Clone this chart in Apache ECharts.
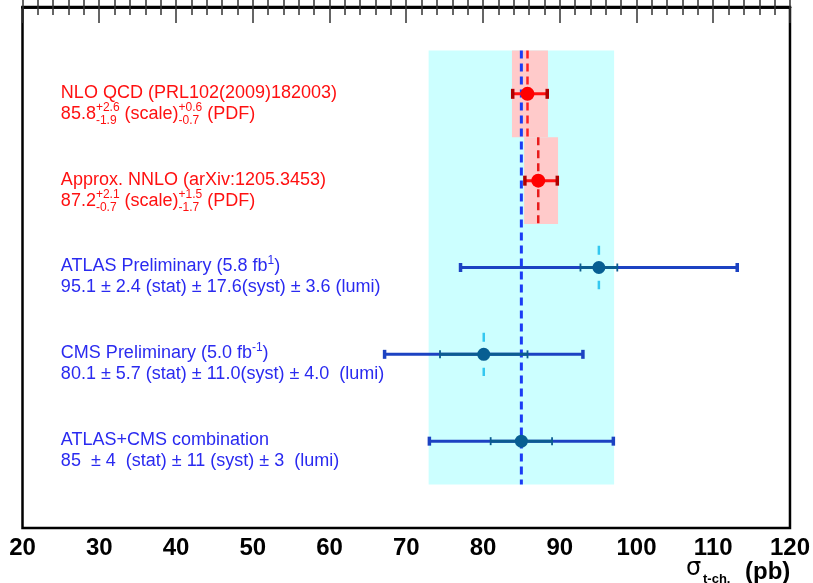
<!DOCTYPE html>
<html><head><meta charset="utf-8">
<script src="https://cdn.jsdelivr.net/npm/echarts@6/dist/echarts.min.js"></script>
<style>html,body{margin:0;padding:0;background:#fff}#c{width:813px;height:583px}</style>
</head><body><div id="c"></div>
<script>
// ---------- data ----------
const xMin = 20, xMax = 120, xStep = 10;
// theory predictions (rows 1,2)
const theoryRows = [1, 2];
const theoryCentral = [85.8, 87.2];
const theoryScaleUp = [2.6, 2.1];
const theoryScaleDown = [1.9, 0.7];
const theoryPdfUp = [0.6, 1.5];
const theoryPdfDown = [0.7, 1.7];
// measurements (rows 3,4,5)
const measRows = [3, 4, 5];
const measCentral = [95.1, 80.1, 85];
const measStat = [2.4, 5.7, 4];
const measSyst = [17.6, 11.0, 11];
const measLumi = [3.6, 4.0, 3];
const combIndex = 2;
// label texts: strings, or {sup, sub} pieces
const labelRows = [1, 2, 3, 4, 5];
const labelLine1 = [
  ['NLO QCD (PRL102(2009)182003)'],
  ['Approx. NNLO (arXiv:1205.3453)'],
  ['ATLAS Preliminary (5.8 fb', {sup: '1'}, ')'],
  ['CMS Preliminary (5.0 fb', {sup: '-1'}, ')'],
  ['ATLAS+CMS combination']
];
const labelLine2 = [
  ['85.8', {sup: '+2.6', sub: '-1.9'}, ' (scale)', {sup: '+0.6', sub: '-0.7'}, ' (PDF)'],
  ['87.2', {sup: '+2.1', sub: '-0.7'}, ' (scale)', {sup: '+1.5', sub: '-1.7'}, ' (PDF)'],
  ['95.1 \u00b1 2.4 (stat) \u00b1 17.6(syst) \u00b1 3.6 (lumi)'],
  ['80.1 \u00b1 5.7 (stat) \u00b1 11.0(syst) \u00b1 4.0  (lumi)'],
  ['85  \u00b1 4  (stat) \u00b1 11 (syst) \u00b1 3  (lumi)']
];
const labelColors = ['#ff1010', '#ff1010', '#2a2af0', '#2a2af0', '#2a2af0'];
const axisTitle = {sym: '\u03c3', sub: 't-ch.', unit: '(pb)'};

// ---------- helpers ----------
const quad = (...a) => Math.sqrt(a.reduce((s, v) => s + v * v, 0));
const theoryLo = theoryCentral.map((c, i) => c - quad(theoryScaleDown[i], theoryPdfDown[i]));
const theoryHi = theoryCentral.map((c, i) => c + quad(theoryScaleUp[i], theoryPdfUp[i]));
const measTot = measCentral.map((c, i) => quad(measStat[i], measSyst[i], measLumi[i]));

const FONT = '"Liberation Sans", Arial, Helvetica, sans-serif';
const cv = document.createElement('canvas').getContext('2d');
function tw(s, size) { cv.font = size + 'px ' + FONT; return cv.measureText(s).width; }

const LABEL_X = 25;
const MAIN = 18, SMALL = 12;

function textEl(x, y, s, size, color) {
  return {type: 'text', x: x, y: y, style: {text: s, font: size + 'px ' + FONT, fill: color, textAlign: 'left', textVerticalAlign: 'middle'}};
}
function lineChildren(x, y, segs, color) {
  const out = [];
  segs.forEach(seg => {
    if (typeof seg === 'string') {
      out.push(textEl(x, y, seg, MAIN, color));
      x += tw(seg, MAIN);
    } else {
      let w = 0;
      if (seg.sup) { out.push(textEl(x, y - 6, seg.sup, SMALL, color)); w = Math.max(w, tw(seg.sup, SMALL)); }
      if (seg.sub) { out.push(textEl(x, y + 7, seg.sub, SMALL, color)); w = Math.max(w, tw(seg.sub, SMALL)); }
      x += w;
    }
  });
  return out;
}

const chart = echarts.init(document.getElementById('c'), null, {renderer: 'canvas'});

const xAxisBase = {
  type: 'value', min: xMin, max: xMax, interval: xStep,
  axisLine: {show: true, lineStyle: {color: '#000', width: 2.5}},
  axisTick: {show: true, inside: true, length: 16, lineStyle: {color: '#333', width: 1.5}},
  minorTick: {show: true, splitNumber: 5, length: 8, lineStyle: {color: '#333', width: 1.5}},
  splitLine: {show: false}
};

const option = {
  animation: false,
  backgroundColor: '#fff',
  grid: {left: 22.5, right: 20.5, top: 7, bottom: 55, show: true, borderColor: '#000', borderWidth: 2.5, backgroundColor: 'transparent'},
  xAxis: [
    Object.assign({}, xAxisBase, {position: 'bottom',
      axisLabel: {show: true, margin: 8, color: '#000', fontSize: 24, fontWeight: 'bold', fontFamily: FONT}}),
    Object.assign({}, xAxisBase, {position: 'top', axisLabel: {show: false}})
  ],
  yAxis: {type: 'value', min: 0, max: 6, inverse: true, show: false},
  graphic: [
    {type: 'text', left: 686, top: 557, style: {text: axisTitle.sym, font: '24px "DejaVu Sans", ' + FONT, fill: '#000'}},
    {type: 'text', left: 703, top: 573, style: {text: axisTitle.sub, font: 'bold 13px ' + FONT, fill: '#000'}},
    {type: 'text', left: 745, top: 560, style: {text: axisTitle.unit, font: 'bold 24px ' + FONT, fill: '#000'}}
  ],
  series: [
    // combination band
    {
      type: 'custom', z: 1, silent: true,
      data: [[measCentral[combIndex] - measTot[combIndex], measCentral[combIndex] + measTot[combIndex], measRows[0] - 2.5, measRows[2] + 0.5]],
      renderItem: (p, api) => {
        const a = api.coord([api.value(0), api.value(2)]), b = api.coord([api.value(1), api.value(3)]);
        return {type: 'rect', shape: {x: a[0], y: a[1], width: b[0] - a[0], height: b[1] - a[1]}, style: {fill: '#ccffff'}};
      }
    },
    // theory bands + dashed lines
    {
      type: 'custom', z: 2, silent: true,
      data: theoryCentral.map((c, i) => [c, theoryLo[i], theoryHi[i], theoryRows[i]]),
      renderItem: (p, api) => {
        const r = api.value(3);
        const a = api.coord([api.value(1), r - 0.5]), b = api.coord([api.value(2), r + 0.5]);
        const t = api.coord([api.value(0), r - 0.5]), u = api.coord([api.value(0), r + 0.5]);
        return {type: 'group', children: [
          {type: 'rect', shape: {x: a[0], y: a[1], width: b[0] - a[0], height: b[1] - a[1]}, style: {fill: '#ffcaca'}},
          {type: 'line', shape: {x1: t[0], y1: t[1], x2: u[0], y2: u[1]}, style: {stroke: p.dataIndex === 0 ? '#ff2020' : '#e81c1c', lineWidth: 2.5, lineDash: [8, 5]}}
        ]};
      }
    },
    // combination central dashed line
    {
      type: 'custom', z: 3, silent: true,
      data: [[measCentral[combIndex], measRows[0] - 2.5, measRows[2] + 0.5]],
      renderItem: (p, api) => {
        const a = api.coord([api.value(0), api.value(1)]), b = api.coord([api.value(0), api.value(2)]);
        return {type: 'line', shape: {x1: a[0], y1: a[1], x2: b[0], y2: b[1]}, style: {stroke: '#1a3cf5', lineWidth: 3, lineDash: [8, 5]}};
      }
    },
    // theory error bars
    {
      type: 'custom', z: 4, silent: true,
      data: theoryCentral.map((c, i) => [c, theoryLo[i], theoryHi[i], theoryRows[i]]),
      renderItem: (p, api) => {
        const r = api.value(3);
        const c = api.coord([api.value(0), r]), lo = api.coord([api.value(1), r]), hi = api.coord([api.value(2), r]);
        return {type: 'group', children: [
          {type: 'line', shape: {x1: lo[0], y1: c[1], x2: hi[0], y2: c[1]}, style: {stroke: '#ff1010', lineWidth: 3}},
          {type: 'rect', shape: {x: lo[0] - 1, y: c[1] - 5, width: 3.5, height: 10}, style: {fill: '#b00000'}},
          {type: 'rect', shape: {x: hi[0] - 2.5, y: c[1] - 5, width: 3.5, height: 10}, style: {fill: '#b00000'}},
          {type: 'circle', shape: {cx: c[0], cy: c[1], r: 7}, style: {fill: '#ff0000'}}
        ]};
      }
    },
    // measurement error bars
    {
      type: 'custom', z: 5, silent: true,
      data: measCentral.map((c, i) => [c, measStat[i], measTot[i], measRows[i]]),
      renderItem: (p, api) => {
        const r = api.value(3), cx = api.value(0), st = api.value(1), tot = api.value(2);
        const c = api.coord([cx, r]);
        const lo = api.coord([cx - tot, r]), hi = api.coord([cx + tot, r]);
        const sl = api.coord([cx - st, r]), sh = api.coord([cx + st, r]);
        const top = api.coord([cx, r - 0.25]), bot = api.coord([cx, r + 0.25]);
        const ch = [];
        if (p.dataIndex !== combIndex) {
          ch.push({type: 'line', shape: {x1: top[0], y1: top[1], x2: bot[0], y2: bot[1]}, style: {stroke: '#33c8f0', lineWidth: 2.5, lineDash: [9, 26]}});
        }
        ch.push(
          {type: 'line', shape: {x1: lo[0], y1: c[1], x2: hi[0], y2: c[1]}, style: {stroke: '#1c42c2', lineWidth: 3}},
          {type: 'line', shape: {x1: sl[0], y1: c[1], x2: sh[0], y2: c[1]}, style: {stroke: '#0c5c90', lineWidth: 3}},
          {type: 'rect', shape: {x: lo[0] - 1, y: c[1] - 4.5, width: 3.5, height: 9}, style: {fill: '#1c42c2'}},
          {type: 'rect', shape: {x: hi[0] - 2.5, y: c[1] - 4.5, width: 3.5, height: 9}, style: {fill: '#1c42c2'}},
          {type: 'line', shape: {x1: sl[0], y1: c[1] - 4, x2: sl[0], y2: c[1] + 4}, style: {stroke: '#0c5c90', lineWidth: 1.8}},
          {type: 'line', shape: {x1: sh[0], y1: c[1] - 4, x2: sh[0], y2: c[1] + 4}, style: {stroke: '#0c5c90', lineWidth: 1.8}},
          {type: 'circle', shape: {cx: c[0], cy: c[1], r: 6.5}, style: {fill: '#075e92'}}
        );
        return {type: 'group', children: ch};
      }
    },
    // text labels
    {
      type: 'custom', z: 6, silent: true,
      data: labelRows.map((r, i) => [LABEL_X, r, i]),
      renderItem: (p, api) => {
        const i = api.value(2);
        const pt = api.coord([api.value(0), api.value(1)]);
        const col = labelColors[i];
        return {type: 'group', children: lineChildren(pt[0], pt[1] - 1, labelLine1[i], col).concat(lineChildren(pt[0], pt[1] + 20, labelLine2[i], col))};
      }
    }
  ]
};
chart.setOption(option);
</script>
</body></html>
